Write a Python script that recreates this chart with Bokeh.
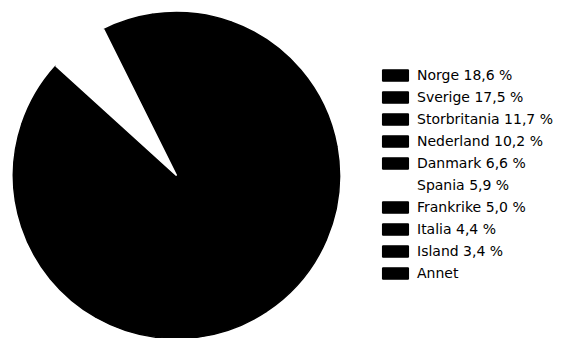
import math
from bokeh.plotting import figure
from bokeh.models import ColumnDataSource, Legend, LegendItem
from bokeh.embed import file_html
from bokeh.resources import INLINE

countries = ["Norge", "Sverige", "Storbritania", "Nederland", "Danmark",
             "Spania", "Frankrike", "Italia", "Island", "Annet"]
shares = [18.6, 17.5, 11.7, 10.2, 6.6, 5.9, 5.0, 4.4, 3.4, 16.7]
labels = ["Norge 18,6 %", "Sverige 17,5 %", "Storbritania 11,7 %", "Nederland 10,2 %",
          "Danmark 6,6 %", "Spania 5,9 %", "Frankrike 5,0 %", "Italia 4,4 %",
          "Island 3,4 %", "Annet"]
colors = ["#000000", "#000000", "#000000", "#000000", "#000000",
          "#ffffff", "#000000", "#000000", "#000000", "#000000"]

W, H = 562, 338
p = figure(width=W, height=H, x_range=(0, W), y_range=(0, H),
           output_backend="svg", toolbar_location=None, min_border=0)
p.axis.visible = False
p.grid.visible = False
p.outline_line_color = None

total = sum(shares)
offset = math.radians(10.3)  # first slice starts here, slices run clockwise
starts, ends = [], []
cum = 0.0
for s in shares:
    starts.append(offset - 2 * math.pi * (cum + s) / total)
    ends.append(offset - 2 * math.pi * cum / total)
    cum += s

cx, cy, r = 176, 163, 163

renderers = [None] * len(countries)
# draw the white slice last so that its outline covers the neighbours' edges
order = [i for i in range(len(countries)) if colors[i] != "#ffffff"] + \
        [i for i in range(len(countries)) if colors[i] == "#ffffff"]
for i in order:
    sub = ColumnDataSource(dict(start=[starts[i]], end=[ends[i]], color=[colors[i]]))
    renderers[i] = p.wedge(x=cx, y=cy, radius=r, start_angle="start", end_angle="end",
                           fill_color="color", line_color="color", line_width=1.5,
                           source=sub)

legend = Legend(items=[LegendItem(label=labels[i], renderers=[renderers[i]]) for i in range(len(labels))],
                location=(379, 57), padding=0, margin=0, spacing=6,
                glyph_width=32, glyph_height=14, label_height=16, label_standoff=6,
                label_text_font="DejaVu Sans", label_text_font_size="14px",
                label_text_color="#000000",
                border_line_color=None, background_fill_alpha=0)
p.add_layout(legend, "center")

open("out.html", "w").write(file_html(p, INLINE))
